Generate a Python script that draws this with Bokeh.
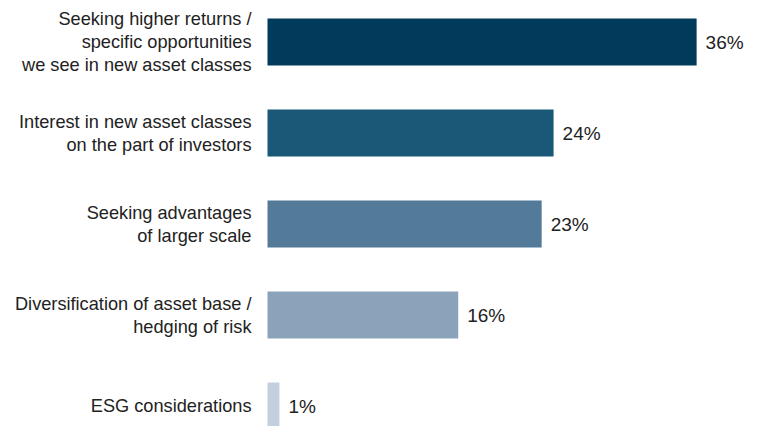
from bokeh.plotting import figure
from bokeh.models import ColumnDataSource, Range1d
from bokeh.core.properties import value
from bokeh.embed import file_html
from bokeh.resources import INLINE

categories = [
    "Seeking higher returns /\nspecific opportunities\nwe see in new asset classes",
    "Interest in new asset classes\non the part of investors",
    "Seeking advantages\nof larger scale",
    "Diversification of asset base /\nhedging of risk",
    "ESG considerations",
]
values = [36, 24, 23, 16, 1]
value_labels = ["36%", "24%", "23%", "16%", "1%"]
colors = ["#003b5c", "#1b5878", "#537a98", "#8ba3ba", "#c3cfdd"]

pos = list(range(len(categories)))
src = ColumnDataSource(dict(y=pos, v=values, cat=categories, lab=value_labels,
                            c=colors, zero=[0] * len(pos)))

W, H = 759, 426
px_per = 11.92
x0 = 267
y0 = 41.5
step = 91.0
p = figure(width=W, height=H, output_backend="svg", toolbar_location=None,
           x_range=Range1d(-x0 / px_per, (W - x0) / px_per),
           y_range=Range1d((H - y0) / step, -y0 / step),
           min_border=0, outline_line_color=None)
p.axis.visible = False
p.grid.visible = False
p.background_fill_color = "white"
p.border_fill_color = "white"

p.hbar(y="y", left=0, right="v", height=0.516, fill_color="c", line_color=None, source=src)

p.text(x="zero", y="y", text="cat", source=src, x_offset=-16,
       text_align="right", text_baseline="middle",
       text_font=value("Liberation Sans"), text_font_size="18.2px",
       text_color="#222222", text_line_height=1.15)
p.text(x="v", y="y", text="lab", source=src, x_offset=9,
       text_align="left", text_baseline="middle",
       text_font=value("Liberation Sans"), text_font_size="19px",
       text_color="#222222")

open("out.html", "w").write(file_html(p, INLINE))
